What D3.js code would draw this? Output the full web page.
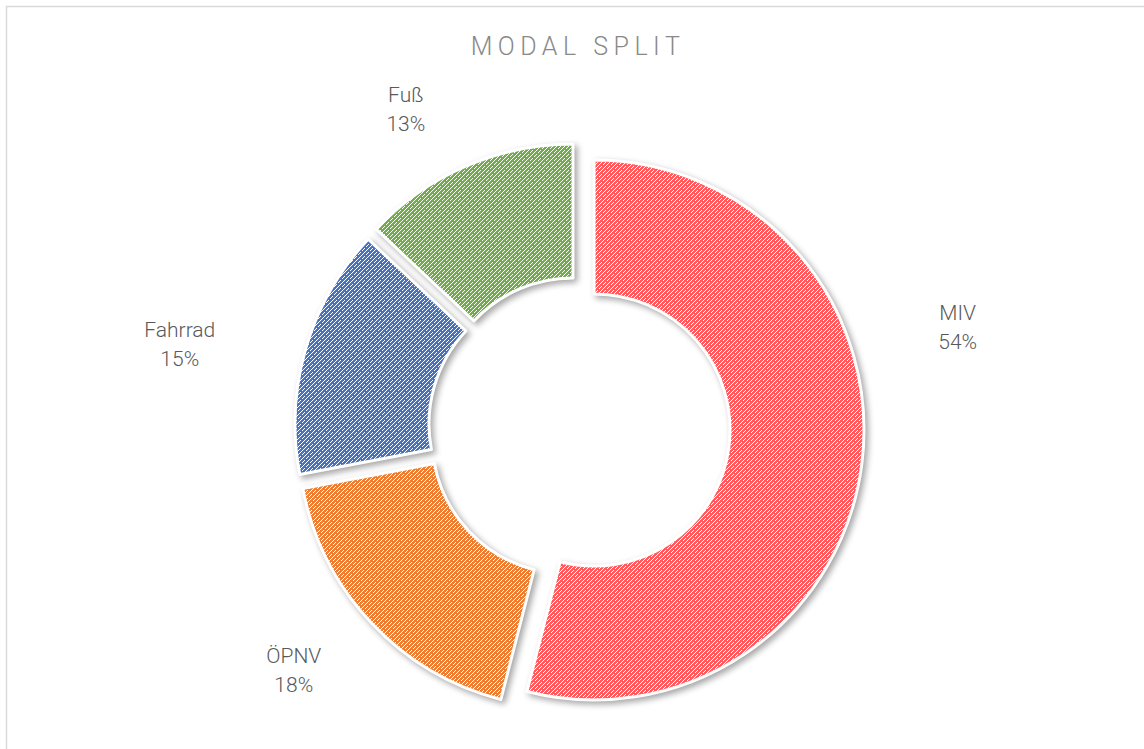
<!DOCTYPE html>
<html>
<head>
<meta charset="utf-8">
<script src="https://cdn.jsdelivr.net/npm/d3@7"></script>
<style>
  html,body{margin:0;padding:0;background:#fff;}
  text{font-family:Roboto,"Open Sans",sans-serif;}
</style>
</head>
<body>
<svg id="chart" width="1144" height="749"></svg>
<script>
// data
const categories=["MIV","ÖPNV","Fahrrad","Fuß"];
const shares=[54,18,15,13];
const colors=["#ff5b5f","#ed7d31","#4472c4","#70ad47"];
// label placement: angle (deg, clockwise from top) and distance from centre
const labelAngle=[75,229.7,281.9,331.5];
const labelDist=[392,374,408,363];

const W=1144,H=749;
const cx=579,cy=428,R=270,r=136,explode=15;

const svg=d3.select("#chart");
const defs=svg.append("defs");

// frame
svg.append("rect").attr("x",6.5).attr("y",6.5).attr("width",W).attr("height",H)
  .attr("fill","none").attr("stroke","#d9d9d9").attr("stroke-width",1.5);

svg.append("text").attr("x",578).attr("y",55)
  .attr("text-anchor","middle").attr("fill","#898989")
  .style("font-size","25px").style("letter-spacing","5.5px").style("font-weight",300)
  .text("MODAL SPLIT");

// soft shadow (drawn as separate blurred copies under the slices)
defs.append("filter").attr("id","blur").attr("x","-20%").attr("y","-20%").attr("width","140%").attr("height","140%")
  .append("feGaussianBlur").attr("stdDeviation",3);

// hatch patterns: upward diagonal white dashes
colors.forEach((c,i)=>{
  const p=defs.append("pattern").attr("id","hatch"+i)
    .attr("patternUnits","userSpaceOnUse").attr("width",8).attr("height",8);
  p.append("rect").attr("width",8).attr("height",8).attr("fill",c).attr("shape-rendering","crispEdges");
  for(let x=0;x<8;x++){
    for(let y=0;y<8;y++){
      if((x+y)%4===3 && !((x+y)===7 && x%4===0)){
        p.append("rect").attr("x",x).attr("y",y).attr("width",1).attr("height",1)
          .attr("fill","#fff").attr("shape-rendering","crispEdges");
      }
    }
  }
});

const pie=d3.pie().sort(null).value(d=>d)(shares);
const arc=d3.arc().innerRadius(r).outerRadius(R);
const shift=d=>{
  const a=(d.startAngle+d.endAngle)/2;
  return [Math.round(explode*Math.sin(a)),Math.round(-explode*Math.cos(a))];
};

const g=svg.append("g").attr("transform",`translate(${cx},${cy})`);

g.selectAll("path.shadow").data(pie).join("path")
  .attr("class","shadow")
  .attr("transform",d=>{const s=shift(d);return `translate(${s[0]+3},${s[1]+3})`;})
  .attr("d",arc)
  .attr("fill","#000").attr("opacity",0.35)
  .attr("stroke","#000").attr("stroke-width",3)
  .attr("filter","url(#blur)");

g.selectAll("path.slice").data(pie).join("path")
  .attr("class","slice")
  .attr("transform",d=>{const s=shift(d);return `translate(${s[0]},${s[1]})`;})
  .attr("d",arc)
  .attr("fill",(d,i)=>`url(#hatch${i})`)
  .attr("stroke","#fff").attr("stroke-width",3).attr("stroke-linejoin","round");

// labels
const lab=g.selectAll("text.lab").data(pie).join("text")
  .attr("class","lab")
  .attr("text-anchor","middle").attr("fill","#595959")
  .style("font-size","21px").style("font-weight",300)
  .attr("transform",(d,i)=>{
    const a=labelAngle[i]*Math.PI/180;
    return `translate(${labelDist[i]*Math.sin(a)},${-labelDist[i]*Math.cos(a)})`;
  });
lab.append("tspan").attr("x",0).attr("y",-7).text((d,i)=>categories[i]);
lab.append("tspan").attr("x",0).attr("y",22).text((d,i)=>d3.format(".0f")(shares[i])+"%");
</script>
</body>
</html>
